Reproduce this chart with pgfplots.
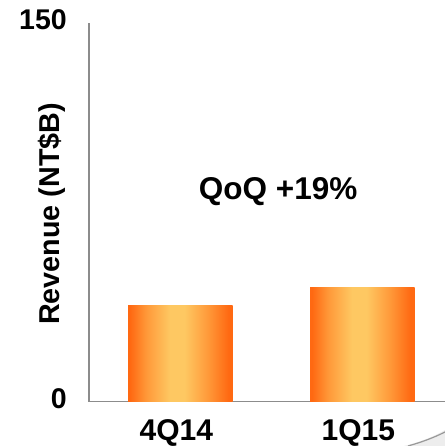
\documentclass[border=0pt]{standalone}
\usepackage{pgfplots}
\pgfplotsset{compat=1.18}
\usepackage{fontspec}
\setmainfont{Liberation Sans}

\definecolor{barDark}{HTML}{FF6912}
\definecolor{barMid}{HTML}{FF9A3A}
\definecolor{barLight}{HTML}{FEC862}
\definecolor{axisGray}{HTML}{8C8C8C}

% cylinder-like horizontal gradient for the bars (path spans 25bp..75bp)
\pgfdeclarehorizontalshading{barshade}{100bp}{%
  color(0bp)=(barDark); color(26bp)=(barDark); color(34bp)=(barMid);
  color(45bp)=(barLight); color(52bp)=(barLight); color(63bp)=(barMid);
  color(73bp)=(barDark); color(100bp)=(barDark)}

\newcommand{\tickfont}{\fontsize{28.5bp}{30bp}\selectfont}
\newcommand{\catfont}{\fontsize{30bp}{32bp}\selectfont}

\begin{document}
\begin{tikzpicture}
  \begin{axis}[
    name=ax,
    scale only axis, width=356bp, height=379bp,
    xmin=-0.502, xmax=1.454, ymin=0, ymax=150,
    axis x line*=bottom, axis y line*=left,
    axis line style={axisGray, line width=1.5bp, -},
    clip=false,
    xtick={0,1}, xticklabels={\catfont\textbf{4Q14},\catfont\textbf{1Q15}},
    ytick={0,150}, yticklabels={\tickfont\textbf{0},\tickfont\textbf{150}},
    major tick length=0pt,
    /pgf/number format/assume math mode=true,
    yticklabel style={anchor=east, inner sep=0pt, xshift=-22bp, yshift=3bp},
    xticklabel style={anchor=north, inner sep=0pt, yshift=-18bp, xshift=-4bp},
    bar width=104.7bp,
  ]
    % revenue, NT$ billions
    \addplot[ybar, bar shift=0pt, draw=none, shading=barshade]
      coordinates {(0,37.9)};
    \addplot[ybar, bar shift=0pt, draw=none, shading=barshade]
      coordinates {(1,45.1)};
    \node[anchor=center] at (axis cs:0.537,83)
      {\fontsize{31.5bp}{33bp}\selectfont\textbf{QoQ +19\%}};
    \coordinate (corner) at (axis cs:-0.502,0);
  \end{axis}
  % fixed canvas: 445 x 446 bp, axis corner at (89, 44.3)
  \pgfresetboundingbox
  \begin{scope}[shift={(corner)}, x=1bp, y=1bp, shift={(-89,-44.3)}]
    \useasboundingbox (0,0) rectangle (445,446);
    \node[rotate=90] at (52,232)
      {\fontsize{28.7bp}{30bp}\selectfont\textbf{Revenue (NT\$B)}};
    % decorative swoosh in the lower right corner
    \fill[black!7] (404,0) .. controls (420,4) and (433,9) .. (445,16) -- (445,0) -- cycle;
    \draw[black!40, line width=1.2bp] (408,0) .. controls (422,4) and (433,8) .. (445,14);
  \end{scope}
\end{tikzpicture}
\end{document}
